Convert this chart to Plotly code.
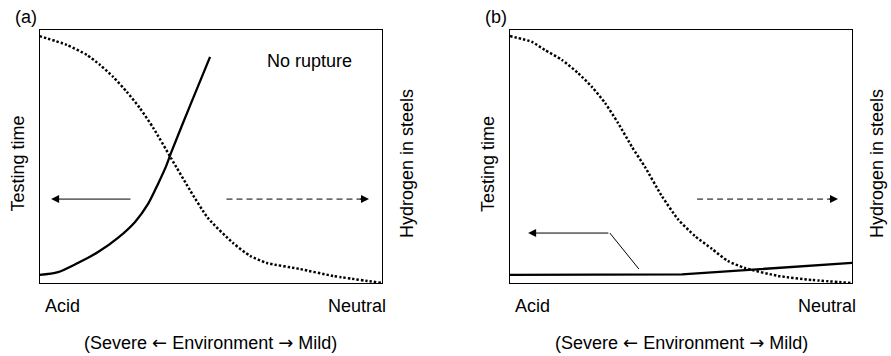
import plotly.graph_objects as go

W, H = 891, 356

# ---------------- data (normalised 0..1 in each panel) ----------------
# Panel (a): hydrogen (dotted) and testing time (solid)
a_h_x = [0.0, 0.080, 0.139, 0.177, 0.215, 0.255, 0.293, 0.332, 0.384, 0.439,
         0.492, 0.565, 0.615, 0.664, 0.761, 0.857, 1.0]
a_h_y = [0.974, 0.939, 0.899, 0.860, 0.813, 0.754, 0.690, 0.612, 0.493, 0.367,
         0.256, 0.158, 0.107, 0.079, 0.055, 0.028, 0.0]
a_t_x = [0.0, 0.054, 0.112, 0.171, 0.229, 0.279, 0.317, 0.346, 0.370, 0.384, 0.439, 0.498]
a_t_y = [0.032, 0.043, 0.079, 0.122, 0.178, 0.241, 0.312, 0.391, 0.462, 0.513, 0.698, 0.892]

# Panel (b)
b_h_x = [0.0, 0.064, 0.102, 0.152, 0.199, 0.240, 0.278, 0.316, 0.357, 0.395,
         0.444, 0.491, 0.541, 0.591, 0.637, 0.687, 0.784, 0.883, 1.0]
b_h_y = [0.974, 0.951, 0.919, 0.880, 0.828, 0.773, 0.710, 0.631, 0.536, 0.457,
         0.343, 0.252, 0.185, 0.134, 0.087, 0.059, 0.028, 0.012, 0.0]
b_t_x = [0.0, 0.503, 1.0]
b_t_y = [0.032, 0.034, 0.079]

# indicator arrows: [tail_x, head_x, y]
a_left_arrow = [0.270, 0.034, 0.331]
a_right_arrow = [0.546, 0.962, 0.331]
b_left_arrow = [0.292, 0.053, 0.197]
b_leader_x = [0.377, 0.292]
b_leader_y = [0.055, 0.197]
b_right_arrow = [0.547, 0.959, 0.331]

panel_labels = ["(a)", "(b)"]
left_title = "Testing time"
right_title = "Hydrogen in steels"
x_left_label = "Acid"
x_right_label = "Neutral"
ARW = '<span style="font-family:DejaVu Sans">{}</span>'
env_label = "(Severe " + ARW.format("\u2190") + " Environment " + ARW.format("\u2192") + " Mild)"
no_rupture = "No rupture"

# ---------------- layout helpers ----------------
FONT = "Liberation Sans, Arial, Helvetica, sans-serif"
FS = 18

def px(x):
    return x / W

def py(y):
    return 1 - y / H

panels = [
    dict(xd=[39.5, 382.0]),
    dict(xd=[510.0, 852.0]),
]
ytop, ybot = 29.5, 283.0

fig = go.Figure()

def add_curves(xr, yr, hx, hy, tx, ty, tshape):
    fig.add_trace(go.Scatter(x=hx, y=hy, mode="lines", xaxis=xr, yaxis=yr,
                             line=dict(color="black", width=2.5, dash="2.4px,2px",
                                       shape="spline", smoothing=0.6),
                             hoverinfo="skip", showlegend=False))
    fig.add_trace(go.Scatter(x=tx, y=ty, mode="lines", xaxis=xr, yaxis=yr,
                             line=dict(color="black", width=2.3, shape=tshape, smoothing=0.8),
                             hoverinfo="skip", showlegend=False))

add_curves("x", "y", a_h_x, a_h_y, a_t_x, a_t_y, "spline")
add_curves("x2", "y2", b_h_x, b_h_y, b_t_x, b_t_y, "linear")

def solid_arrow(xr, yr, tail_x, head_x, yv):
    fig.add_annotation(x=head_x, y=yv, ax=tail_x, ay=yv, xref=xr, yref=yr,
                       axref=xr, ayref=yr, showarrow=True, arrowhead=2,
                       arrowsize=1.6, arrowwidth=1, arrowcolor="black", text="")

def dashed_arrow(xr, yr, tail_x, head_x, yv):
    fig.add_trace(go.Scatter(x=[tail_x, head_x - 0.01], y=[yv, yv], mode="lines",
                             xaxis=xr, yaxis=yr,
                             line=dict(color="black", width=1, dash="6px,4px"),
                             hoverinfo="skip", showlegend=False))
    fig.add_annotation(x=head_x, y=yv, ax=head_x - 0.03, ay=yv, xref=xr, yref=yr,
                       axref=xr, ayref=yr, showarrow=True, arrowhead=2,
                       arrowsize=1.6, arrowwidth=1, arrowcolor="black", text="")

solid_arrow("x", "y", a_left_arrow[0], a_left_arrow[1], a_left_arrow[2])
dashed_arrow("x", "y", a_right_arrow[0], a_right_arrow[1], a_right_arrow[2])

fig.add_trace(go.Scatter(x=b_leader_x, y=b_leader_y, mode="lines", xaxis="x2", yaxis="y2",
                         line=dict(color="black", width=1), hoverinfo="skip", showlegend=False))
solid_arrow("x2", "y2", b_left_arrow[0], b_left_arrow[1], b_left_arrow[2])
dashed_arrow("x2", "y2", b_right_arrow[0], b_right_arrow[1], b_right_arrow[2])

axis_common = dict(range=[0, 1], showline=True, mirror=True, linecolor="black",
                   linewidth=1.2, showgrid=False, zeroline=False, showticklabels=False,
                   ticks="", fixedrange=True)

layout_axes = {}
for i, p in enumerate(panels):
    suffix = "" if i == 0 else str(i + 1)
    layout_axes["xaxis" + suffix] = dict(axis_common, domain=[px(p["xd"][0]), px(p["xd"][1])],
                                         anchor="y" + suffix)
    layout_axes["yaxis" + suffix] = dict(axis_common, domain=[py(ybot), py(ytop)],
                                         anchor="x" + suffix)

fig.update_layout(width=W, height=H, margin=dict(l=0, r=0, t=0, b=0),
                  paper_bgcolor="white", plot_bgcolor="white",
                  font=dict(family=FONT, size=FS, color="black"),
                  showlegend=False, **layout_axes)

def text(x, y, s, xanchor="center", angle=0):
    fig.add_annotation(x=px(x), y=py(y), xref="paper", yref="paper", text=s,
                       showarrow=False, xanchor=xanchor, yanchor="middle",
                       textangle=angle, font=dict(family=FONT, size=FS, color="black"))

for i, p in enumerate(panels):
    x0, x1 = p["xd"]
    text(x0 - 27, 17, panel_labels[i], xanchor="left")
    text(x0 - 22, 164, left_title, angle=-90)
    text(x1 + 25, 164, right_title, angle=-90)
    text(x0 + 3, 306, x_left_label, xanchor="left")
    text(x1 + 6, 306, x_right_label, xanchor="right")
    text((x0 + x1) / 2, 342, env_label)

text(309.5, 61, no_rupture)

fig.write_html("out.html")
